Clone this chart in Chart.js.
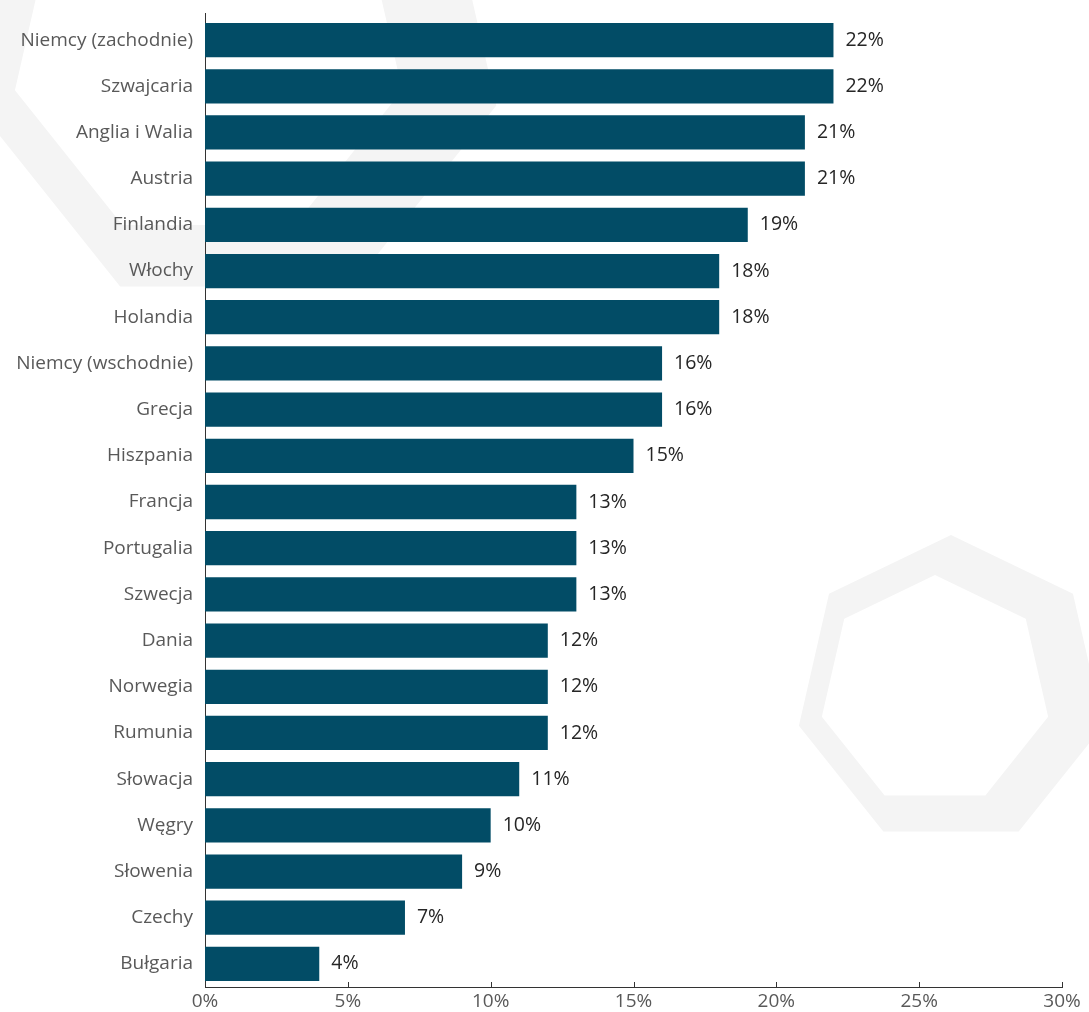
<!DOCTYPE html>
<html>
<head>
<meta charset="utf-8">
<script src="https://cdn.jsdelivr.net/npm/chart.js@4.4.1/dist/chart.umd.min.js"></script>
<style>
	html, body { margin: 0; padding: 0; background: #ffffff; }
	#chart-wrap { position: relative; width: 1089px; height: 1012px; }
</style>
</head>
<body>
<div id="chart-wrap"><canvas id="chart-shares"></canvas></div>
<script>
// Data
// ================================================================================
let countries = ["Niemcy (zachodnie)", "Szwajcaria", "Anglia i Walia", "Austria",
	"Finlandia", "Włochy", "Holandia", "Niemcy (wschodnie)", "Grecja", "Hiszpania",
	"Francja", "Portugalia", "Szwecja", "Dania", "Norwegia", "Rumunia", "Słowacja",
	"Węgry", "Słowenia", "Czechy", "Bułgaria"];

let shares = [22, 22, 21, 21, 19, 18, 18, 16, 16, 15, 13, 13, 13, 12, 12, 12, 11,
	10, 9, 7, 4];

let axis_ticks = [0, 5, 10, 15, 20, 25, 30];

let bar_color = "#024c66";
let font_family = "'Open Sans', 'DejaVu Sans', sans-serif";

// Plugins
// ================================================================================

// light heptagon rings in the background
let heptagon_path = (ctx, cx, cy, r) => {
	for (let k = 0; k < 7; k++) {
		let a = -Math.PI / 2 + k * 2 * Math.PI / 7;
		let x = cx + r * Math.cos(a), y = cy + r * Math.sin(a);
		if (k === 0) ctx.moveTo(x, y); else ctx.lineTo(x, y);
	}
	ctx.closePath();
};

let heptagon_ring = (ctx, cx, cy, r) => {
	ctx.beginPath();
	heptagon_path(ctx, cx, cy, r);
	heptagon_path(ctx, cx - 0.1026 * r, cy, 0.744 * r);
	ctx.fill('evenodd');
};

let backdrop = {
	id: 'backdrop',
	beforeDraw(chart) {
		let ctx = chart.ctx;
		ctx.save();
		ctx.fillStyle = "#ffffff";
		ctx.fillRect(0, 0, chart.width, chart.height);
		ctx.fillStyle = "#f4f4f4";
		heptagon_ring(ctx, 236, 46, 267);
		heptagon_ring(ctx, 951, 691, 156);
		ctx.restore();
	}
};

// value labels right of the bars, small inner ticks on the x axis
let bar_values = {
	id: 'bar_values',
	afterDatasetsDraw(chart) {
		let ctx = chart.ctx;
		let meta = chart.getDatasetMeta(0);
		ctx.save();
		ctx.font = "19.5px " + font_family;
		ctx.fillStyle = "#262626";
		ctx.textAlign = "left";
		ctx.textBaseline = "middle";
		meta.data.forEach((bar, i) => {
			ctx.fillText(shares[i] + "%", bar.x + 12, bar.y);
		});

		let x = chart.scales.x, area = chart.chartArea;
		ctx.strokeStyle = "#333333";
		ctx.lineWidth = 1;
		ctx.beginPath();
		axis_ticks.forEach(v => {
			let px = Math.round(x.getPixelForValue(v)) + 0.5;
			ctx.moveTo(px, area.bottom);
			ctx.lineTo(px, area.bottom - 5);
		});
		// axis line reaches a bit above the first bar
		let lx = Math.round(area.left) + 0.5;
		ctx.moveTo(lx, area.top);
		ctx.lineTo(lx, area.top - 4);
		ctx.stroke();
		ctx.restore();
	}
};

// Chart
// ================================================================================
let shares_chart = new Chart(document.getElementById("chart-shares"), {
	type: 'bar',
	data: {
		labels: countries,
		datasets: [{
			data: shares,
			backgroundColor: bar_color,
			borderWidth: 0,
			categoryPercentage: 1,
			barPercentage: 0.742
		}]
	},
	plugins: [backdrop, bar_values],
	options: {
		indexAxis: 'y',
		responsive: true,
		maintainAspectRatio: false,
		animation: false,
		layout: {
			padding: { top: 17, right: 27, left: 0, bottom: 0 }
		},
		plugins: {
			legend: { display: false },
			tooltip: { enabled: false }
		},
		scales: {
			x: {
				min: 0,
				max: 30,
				afterBuildTicks: (scale) => {
					scale.ticks = axis_ticks.map(v => ({ value: v }));
				},
				afterFit: (scale) => { scale.height = 25; },
				grid: { display: false, drawTicks: false },
				border: { display: true, color: "#333333", width: 1 },
				ticks: {
					padding: 3,
					color: "#595959",
					font: { family: font_family, size: 19 },
					callback: (v) => v + "%"
				}
			},
			y: {
				afterFit: (scale) => {
					scale.width = 205;
					// labels sit inside their bands, no extra room needed
					scale.paddingTop = 0;
					scale.paddingBottom = 0;
				},
				grid: { display: false, drawTicks: false },
				border: { display: true, color: "#333333", width: 1 },
				ticks: {
					padding: 12,
					color: "#595959",
					font: { family: font_family, size: 19 }
				}
			}
		}
	}
});
</script>
</body>
</html>
